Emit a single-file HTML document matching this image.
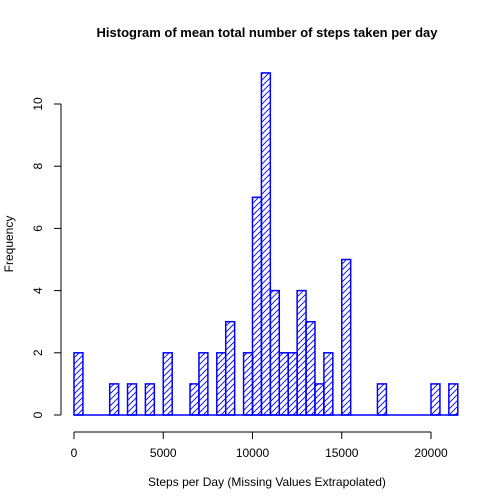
<!DOCTYPE html>
<html><head><meta charset="utf-8"><style>
body{margin:0;background:#fff}
svg{display:block;font-family:"Liberation Sans",Arial,sans-serif}
</style></head><body>
<svg id="chart" width="504" height="504" viewBox="0 0 504 504">
<defs><pattern id="hatch" patternUnits="userSpaceOnUse" width="6" height="6"><path d="M-1,7 L7,-1 M-4,4 L4,-4 M2,10 L10,2" stroke="#00f" stroke-width="0.9"/></pattern></defs>
<text x="267" y="37" text-anchor="middle" font-size="13" font-weight="bold">Histogram of mean total number of steps taken per day</text>
<text x="267" y="486" text-anchor="middle" font-size="12">Steps per Day (Missing Values Extrapolated)</text>
<text transform="translate(13,244) rotate(-90)" text-anchor="middle" font-size="12">Frequency</text>
<g id="bars"></g><g id="axes"></g>
</svg>
<script>
const binStarts=[0,2000,3000,4000,5000,6500,7000,8000,8500,9500,10000,10500,11000,11500,12000,12500,13000,13500,14000,15000,17000,20000,21000];
const counts=[2,1,1,1,2,1,2,2,3,2,7,11,4,2,2,4,3,1,2,5,1,1,1];
const binWidth=500;
const xTicks=[0,5000,10000,15000,20000];
const yTicks=[0,2,4,6,8,10];
const NS="http://www.w3.org/2000/svg";
const xs=v=>74+v*(357/20000), ys=v=>415-v*31.1;
const bars=document.getElementById('bars'), axes=document.getElementById('axes');
function mk(tag,attrs,parent){const e=document.createElementNS(NS,tag);for(const k in attrs)e.setAttribute(k,attrs[k]);parent.appendChild(e);return e;}
const bl=mk('line',{x1:xs(0),x2:xs(21500),y1:ys(0),y2:ys(0),stroke:'#00f','stroke-width':1.5},bars);


binStarts.forEach((b,i)=>{
  const r=mk('rect',{x:xs(b),y:ys(counts[i]),width:xs(b+binWidth)-xs(b),height:ys(0)-ys(counts[i]),fill:'url(#hatch)',stroke:'#00f','stroke-width':1.5},bars);
  
  
});
const xa=mk('line',{x1:xs(0),x2:xs(20000),y1:432,y2:432,stroke:'#000'},axes);


xTicks.forEach(t=>{
  mk('line',{x1:xs(t),x2:xs(t),y1:432,y2:439,stroke:'#000'},axes);
  const tx=mk('text',{x:xs(t),y:457,'text-anchor':'middle','font-size':12},axes);
  tx.textContent=t;
  
  
});
const ya=mk('line',{x1:61,x2:61,y1:ys(0),y2:ys(10),stroke:'#000'},axes);


yTicks.forEach(t=>{
  mk('line',{x1:54,x2:61,y1:ys(t),y2:ys(t),stroke:'#000'},axes);
  const tx=mk('text',{transform:`translate(42,${ys(t)}) rotate(-90)`,'text-anchor':'middle','font-size':12},axes);
  tx.textContent=t;
  
  
});
</script>
</body></html>
